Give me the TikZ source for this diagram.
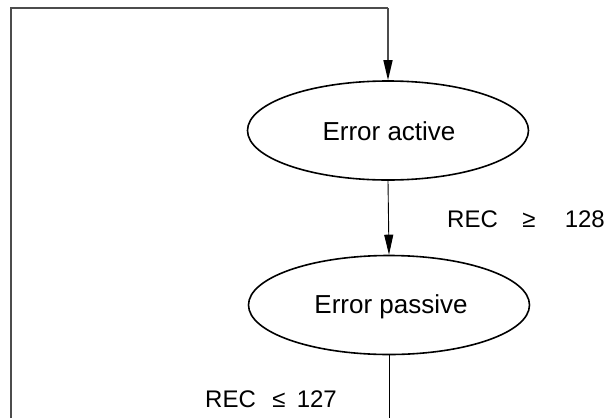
\documentclass[tikz,border=0pt]{standalone}
\usepackage{fontspec}
\setmainfont{Liberation Sans}
\usetikzlibrary{arrows.meta,shapes.geometric}
\begin{document}
\begin{tikzpicture}[x=1pt,y=-1pt,
  state/.style={draw=black,line width=1.6pt,ellipse,minimum width=281pt,minimum height=99pt,inner sep=0pt},
  outer/.style={draw=gray!60!black,line width=1.4pt},
  conn/.style={draw=black,line width=0.9pt},
  arr/.style={-{Triangle[length=20pt,width=9pt,color=black]}},
  lbl/.style={inner sep=0pt,font=\fontsize{24}{28}\selectfont},
  stxt/.style={inner sep=0pt,anchor=base,font=\fontsize{26}{30}\selectfont}]
\useasboundingbox (0,0) rectangle (610,418);
\node[state] (act) at (388,130.5) {};
\node[stxt] (ta) at (389,140) {Error active};
\node[state] (pas) at (389,305) {};
\node[stxt] (tp) at (391,313) {Error passive};
\coordinate (lb) at (11,418);
\coordinate (tl) at (11,8);
\coordinate (tr) at (388,8);
\coordinate (pb) at (389,418);
\draw[outer] (lb) -- (tl) -- (tr);
\draw[outer,arr] (tr) -- (act.north);
\draw[conn,arr] (act.south) -- (pas.north);
\draw[conn] (pas.south) -- (pb);
\node[lbl,anchor=base west] (r1) at (447,227) {REC};
\node[lbl,anchor=base] (g1) at (529,227) {≥};
\node[lbl,anchor=base east] (n1) at (605,227) {128};
\node[lbl,anchor=base west] (r2) at (205,407) {REC};
\node[lbl,anchor=base] (g2) at (279,407) {≤};
\node[lbl,anchor=base east] (n2) at (337,407) {127};
\end{tikzpicture}
\end{document}
